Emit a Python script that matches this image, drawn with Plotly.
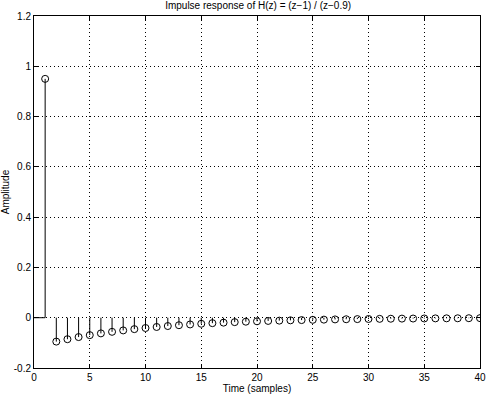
import plotly.graph_objects as go

n = list(range(1, 41))
h = [0.95, -0.095, -0.0855, -0.0770, -0.0693, -0.0623, -0.0561, -0.0505, -0.0454,
     -0.0409, -0.0368, -0.0331, -0.0298, -0.0268, -0.0241, -0.0217, -0.0196,
     -0.0176, -0.0158, -0.0143, -0.0128, -0.0116, -0.0104, -0.0094, -0.0084,
     -0.0076, -0.0068, -0.0061, -0.0055, -0.0050, -0.0045, -0.0040, -0.0036,
     -0.0033, -0.0030, -0.0027, -0.0024, -0.0022, -0.0019, -0.0017]
xticks = [0, 5, 10, 15, 20, 25, 30, 35, 40]
yticks = [-0.2, 0, 0.2, 0.4, 0.6, 0.8, 1, 1.2]
ytext = ["-0.2", "0", "0.2", "0.4", "0.6", "0.8", "1", "1.2"]

sx, sy = [], []
for xi, yi in zip(n, h):
    sx += [xi, xi, None]
    sy += [0, yi, None]

font = dict(family="Liberation Sans, Arial, sans-serif", size=10, color="black")
fig = go.Figure()
fig.add_trace(go.Scatter(x=[0, n[0]], y=[0, 0], mode="lines",
                         line=dict(color="black", width=1), hoverinfo="skip"))
fig.add_trace(go.Scatter(x=sx, y=sy, mode="lines",
                         line=dict(color="black", width=1), hoverinfo="skip"))
fig.add_trace(go.Scatter(x=n, y=h, mode="markers",
                         marker=dict(symbol="circle-open", size=7, color="black",
                                     line=dict(width=1, color="black"))))

axis_common = dict(showline=True, linecolor="black", linewidth=1, mirror="ticks",
                   ticks="inside", ticklen=4, tickcolor="black",
                   showgrid=True, gridcolor="black", gridwidth=1, griddash="1px,3px",
                   zeroline=False, tickfont=font, ticklabeloverflow="allow",
                   automargin=False)
fig.update_xaxes(range=[0, 40], tickvals=xticks,
                 title=dict(text="Time (samples)", font=font, standoff=2), **axis_common)
fig.update_yaxes(range=[-0.2, 1.2], tickvals=yticks, ticktext=ytext,
                 title=dict(text="Amplitude", font=font, standoff=4), **axis_common)
fig.update_layout(
    width=487, height=396, showlegend=False,
    paper_bgcolor="white", plot_bgcolor="white",
    margin=dict(l=34, r=7, t=16, b=28),
    title=dict(text="Impulse response of H(z) = (z\u22121) / (z\u22120.9)", font=font,
               x=0.53, xanchor="center", y=0.995, yanchor="top"),
)
fig.write_html("out.html")
